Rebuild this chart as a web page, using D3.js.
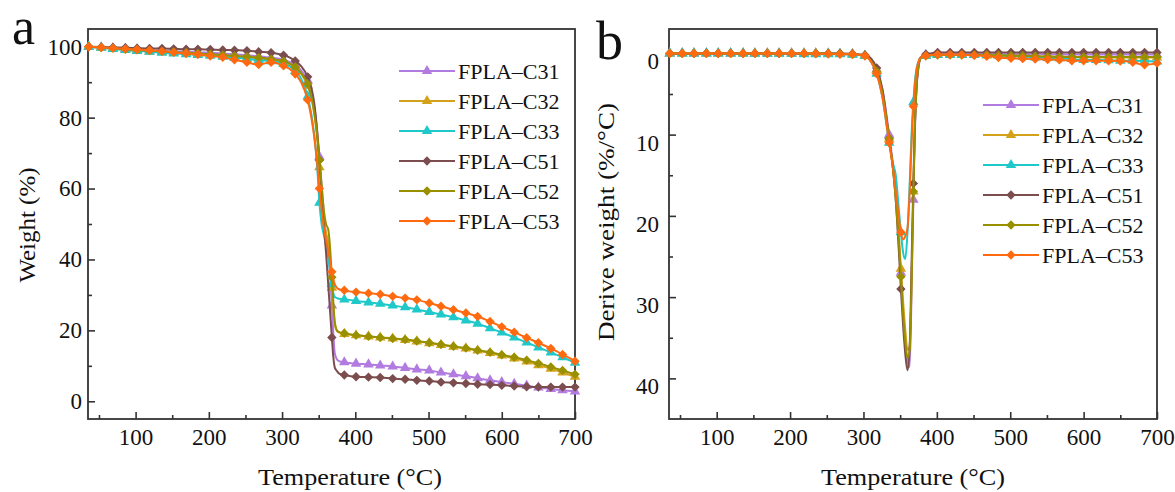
<!DOCTYPE html>
<html><head><meta charset="utf-8">
<script src="https://cdn.jsdelivr.net/npm/d3@7"></script>
<style>
body{margin:0;background:#fff}
svg{display:block}
text{font-family:"Liberation Serif","DejaVu Serif",serif;fill:#111}
</style>
</head><body>
<svg id="c" width="1175" height="492"></svg>
<script>
// ---------- data ----------
const temps=[36,53,69,86,102,119,136,152,169,185,202,219,235,252,268,285,302,
  310,318,326,335,340,344,348,351,354,357,360,363,366,368,370,372,375,378,
  385,392,401,418,434,451,468,484,501,517,534,551,567,584,600,617,634,650,667,683,700];
const markerTemps=[36,53,69,86,102,119,136,152,169,185,202,219,235,252,268,285,302,318,335,351,368,
  385,401,418,434,451,468,484,501,517,534,551,567,584,600,617,634,650,667,683,700];
const seriesNames=["FPLA\u2013C31","FPLA\u2013C32","FPLA\u2013C33","FPLA\u2013C51","FPLA\u2013C52","FPLA\u2013C53"];

// TGA weight (%)
const tga31=[100,99.8,99.6,99.4,99.2,99.0,98.9,98.7,98.6,98.4,98.3,98.1,97.9,97.6,97.3,96.9,96.3,
  95.7,94.8,93.3,90.5,87.5,83,76,69,61,52.5,47,43,34,27,19,13.5,11.8,11.3,
  11.0,10.8,10.6,10.4,10.1,9.8,9.4,9.0,8.7,8.1,7.6,7.1,6.5,5.9,5.4,4.9,4.4,3.9,3.5,3.1,2.8];
const tga32=[100,99.7,99.4,99.1,98.9,98.7,98.5,98.3,98.1,97.9,97.7,97.5,97.2,97.0,96.7,96.3,95.6,
  95.0,94.0,92.3,89,85.5,81,74,66,58,51,47.5,45,38,32,26,21.5,19.8,19.4,
  19.0,18.8,18.6,18.3,18.0,17.7,17.3,16.9,16.4,15.9,15.4,14.9,14.3,13.6,12.9,12.1,11.2,10.2,9.2,8.1,6.9];
const tga33=[100,99.7,99.4,99.1,98.8,98.6,98.3,98.1,97.9,97.7,97.5,97.2,96.9,96.6,96.2,95.9,95.2,
  94.5,93.2,91.0,86,81,75,66,56,50,47,44,40.5,36,33,30.5,29.4,29.1,28.9,
  28.7,28.6,28.3,27.9,27.5,27.0,26.5,25.9,25.2,24.5,23.7,22.8,21.9,20.6,19.4,18.0,16.6,15.2,13.8,12.4,10.9];
const tga51=[100,99.9,99.8,99.7,99.6,99.5,99.5,99.4,99.3,99.3,99.2,99.1,99.0,98.9,98.6,98.3,97.6,
  97.0,96.0,94.5,91.5,88.5,84,76,68,59,50,42,33,24,18,12.5,9.5,8.5,7.8,
  7.4,7.1,6.9,6.8,6.7,6.4,6.2,5.9,5.7,5.4,5.2,5.0,4.8,4.7,4.5,4.3,4.1,4.0,4.0,4.0,4.0];
const tga52=[100,99.8,99.6,99.3,99.1,98.9,98.7,98.5,98.3,98.1,97.9,97.7,97.4,97.2,96.9,96.5,95.9,
  95.3,94.3,92.6,89.5,86,81.5,75,68,61,54,50,48.5,42,35,28,22.5,20.0,19.5,
  19.2,18.9,18.6,18.3,18.0,17.7,17.4,17.0,16.5,16.0,15.5,15.0,14.4,13.8,13.1,12.4,11.6,10.7,9.7,8.7,7.6];
const tga53=[100,99.8,99.6,99.4,99.2,99.0,98.7,98.4,98.1,97.8,97.4,97.0,96.3,95.6,95.0,95.6,94.6,
  93.8,92.3,90.0,85,80,74.5,67,60,54,49,45.5,42.5,39,36.5,34.5,33,32,31.6,
  31.3,31.0,30.8,30.5,30.2,29.6,29.1,28.6,27.7,26.8,25.8,24.9,23.9,22.5,21.0,19.5,17.9,16.5,14.9,13.2,11.3];

// DTG derive weight (%/°C)
const dtg31=[0,0,0,0,0,0,0,0,0,0,0,0,0,0,0.05,0.1,0.3,
  0.8,2,4.5,10,13.5,17,22.5,27,31.5,35.5,38,38.6,27,18,10,5,1.8,0.6,
  0.2,0.1,0.1,0.1,0.1,0.1,0.1,0.1,0.1,0.1,0.1,0.1,0.15,0.15,0.15,0.15,0.15,0.15,0.15,0.15,0.15];
const dtg32=[0,0,0,0,0,0,0,0,0,0,0,0,0,0.05,0.05,0.1,0.3,
  0.9,2.2,5,10.5,14,17.5,22,26.5,30.5,34,36.5,36,26,17,9,4.5,1.5,0.6,
  0.3,0.2,0.2,0.2,0.2,0.2,0.25,0.25,0.3,0.3,0.35,0.4,0.4,0.45,0.45,0.5,0.5,0.5,0.5,0.5,0.5];
const dtg33=[0,0,0,0,0,0,0,0.05,0.05,0.05,0.05,0.1,0.1,0.1,0.1,0.15,0.3,
  1.0,2.5,5.5,11,13.5,15,19,22,24.5,25.3,22,16,9,6,3.5,2,1,0.5,
  0.3,0.3,0.2,0.2,0.2,0.2,0.2,0.25,0.3,0.4,0.5,0.55,0.6,0.7,0.8,0.8,0.85,0.9,0.9,0.95,1.0];
const dtg51=[0,0,0,0,0,0,0,0,0,0,0,0,0,0,0,0.05,0.2,
  0.6,1.8,4.5,10.5,14,18,24,29,33.5,37,39,36,24,16,9,4.5,1.5,0.5,
  0.1,0,-0.1,-0.1,-0.1,-0.1,-0.1,-0.1,-0.1,-0.1,-0.1,-0.1,-0.1,-0.1,-0.1,-0.1,-0.1,-0.1,-0.1,-0.1,-0.1];
const dtg52=[0,0,0,0,0,0,0,0,0,0,0,0,0,0.05,0.05,0.1,0.3,
  0.9,2.2,5,10.5,14,18,23,27.5,32,35.5,37.5,36.5,26,17,9,4.5,1.5,0.6,
  0.3,0.2,0.2,0.2,0.2,0.2,0.2,0.25,0.3,0.3,0.35,0.4,0.45,0.45,0.45,0.45,0.45,0.45,0.45,0.45,0.45];
const dtg53=[0,0,0,0,0,0,0,0,0,0,0,0,0.05,0.05,0.1,0.1,0.3,
  1.0,2.5,5.5,11,14,17,20,22,22.9,22.5,21.5,17,10,6.5,4,2.3,1.0,0.5,
  0.3,0.2,0.15,0.15,0.17,0.25,0.35,0.5,0.6,0.65,0.7,0.75,0.8,0.9,0.9,0.9,0.9,0.95,1.1,1.4,1.2];

const xTicks=[100,200,300,400,500,600,700];
const xMinor=[50,150,250,350,450,550,650];
const weightTicks=[0,20,40,60,80,100];
const weightMinor=[10,30,50,70,90];
const derivTicks=[0,10,20,30,40];
const derivMinor=[5,15,25,35];

// ---------- styles ----------
const colors=["#b27be0","#d4a21a","#1fc8c9","#7c4d4e","#999000","#ff6a10"];
const shapes=["tri","tri","tri","dia","dia","dia"];

const svg=d3.select("#c");
const diamond={draw(ctx,size){const r=Math.sqrt(size/2);ctx.moveTo(0,-r);ctx.lineTo(r,0);ctx.lineTo(0,r);ctx.lineTo(-r,0);ctx.closePath();}};
function symPath(s){return s==="tri"?d3.symbol(d3.symbolTriangle,48)():d3.symbol(diamond,44)();}
const markerSet=new Set(markerTemps);

function panel(o){
  const g=svg.append("g");
  const x=d3.scaleLinear([35,700],[o.left,o.right]);
  const y=d3.scaleLinear(o.ydom,[o.bottom,o.top]);
  g.append("g").attr("transform",`translate(0,${o.bottom})`)
    .call(d3.axisBottom(x).tickValues(xTicks).tickSize(-7).tickPadding(10));
  g.append("g").attr("transform",`translate(0,${o.bottom})`)
    .call(d3.axisBottom(x).tickValues(xMinor).tickSize(-4).tickFormat(""));
  const ay=g.append("g").attr("transform",`translate(${o.left},0)`)
    .call(d3.axisLeft(y).tickValues(o.yTicks).tickSize(-7).tickPadding(o.ypad));
  g.append("g").attr("transform",`translate(${o.left},0)`)
    .call(d3.axisLeft(y).tickValues(o.yMinor).tickSize(-4).tickFormat(""));
  g.selectAll(".domain").remove();
  g.selectAll(".tick line").attr("stroke","#333").attr("stroke-width",1.6);
  g.selectAll(".tick text").attr("font-size",23).attr("fill","#111")
    .style("font-family",'"Liberation Serif",serif');
  if(o.yLabelShift) ay.selectAll(".tick text").attr("y",o.yLabelShift);
  g.append("rect").attr("x",o.left).attr("y",o.top).attr("width",o.right-o.left).attr("height",o.bottom-o.top)
    .attr("fill","none").attr("stroke","#333").attr("stroke-width",1.8);
  const line=d3.line().x(d=>x(d[0])).y(d=>y(d[1])).curve(d3.curveMonotoneX);
  o.series.forEach((vals,i)=>{
    const pts=temps.map((t,j)=>[t,vals[j]]);
    g.append("path").attr("d",line(pts)).attr("fill","none").attr("stroke",colors[i]).attr("stroke-width",2);
    g.append("g").selectAll("path").data(pts.filter(p=>markerSet.has(p[0]))).join("path")
      .attr("d",symPath(shapes[i])).attr("fill",colors[i])
      .attr("transform",d=>`translate(${x(d[0])},${y(d[1])})`);
  });
  const lg=g.append("g");
  seriesNames.forEach((n,i)=>{
    const yy=o.legY+i*30;
    lg.append("line").attr("x1",o.legX).attr("x2",o.legX+56).attr("y1",yy).attr("y2",yy)
      .attr("stroke",colors[i]).attr("stroke-width",2);
    lg.append("path").attr("d",symPath(shapes[i])).attr("fill",colors[i]).attr("transform",`translate(${o.legX+28},${yy})`);
    lg.append("text").attr("x",o.legX+59).attr("y",yy).attr("dy","0.35em").attr("font-size",22).text(n);
  });
  g.append("text").attr("x",o.xTitleX).attr("y",485).attr("text-anchor","middle").attr("font-size",24)
    .attr("textLength",184).attr("lengthAdjust","spacingAndGlyphs").text("Temperature (\u00B0C)");
  g.append("text").attr("transform",`translate(${o.yTitleX},${o.yTitleY}) rotate(-90)`).attr("text-anchor","middle")
    .attr("dy","0.35em").attr("font-size",24).attr("textLength",o.yTitleLen).attr("lengthAdjust","spacingAndGlyphs").text(o.yTitle);
  g.append("text").attr("x",o.tagX).attr("y",o.tagY).attr("font-size",o.tagSize).text(o.tag);
}

panel({left:88,right:575,top:29,bottom:419,ydom:[-5,105],yTicks:weightTicks,yMinor:weightMinor,ypad:6,
  series:[tga31,tga32,tga33,tga51,tga52,tga53],legX:399,legY:71,
  xTitleX:350,yTitleX:27,yTitleY:225,yTitle:"Weight (%)",yTitleLen:115,tag:"a",tagX:12,tagY:44,tagSize:52});
panel({left:669,right:1157,top:29,bottom:419,ydom:[45,-3],yTicks:derivTicks,yMinor:derivMinor,ypad:10,yLabelShift:8,
  series:[dtg31,dtg32,dtg33,dtg51,dtg52,dtg53],legX:983,legY:105,
  xTitleX:913,yTitleX:606,yTitleY:222,yTitle:"Derive weight (%/\u00B0C)",yTitleLen:238,tag:"b",tagX:596,tagY:59,tagSize:54});
</script>
</body></html>
